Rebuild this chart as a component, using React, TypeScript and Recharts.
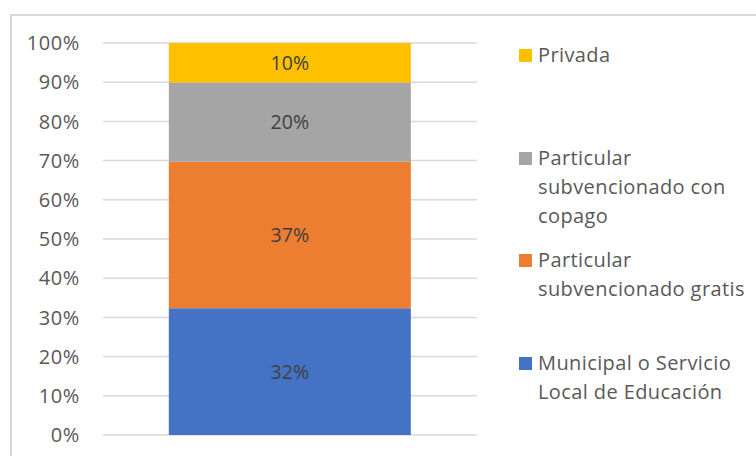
import React from 'react';
import { BarChart, Bar, XAxis, YAxis, CartesianGrid, Legend, LabelList } from 'recharts';

const categories = ['Total'];
const seriesNames = [
  'Municipal o Servicio Local de Educación',
  'Particular subvencionado gratis',
  'Particular subvencionado con copago',
  'Privada',
];
const seriesKeys = ['municipal', 'gratis', 'copago', 'privada'];
const seriesValues = [32, 37, 20, 10];
const seriesColors = ['#4472C4', '#ED7D31', '#A5A5A5', '#FFC000'];
const legendLines = [
  ['Municipal o Servicio', 'Local de Educación'],
  ['Particular', 'subvencionado gratis'],
  ['Particular', 'subvencionado con', 'copago'],
  ['Privada'],
];
const yTicks = [0, 0.1, 0.2, 0.3, 0.4, 0.5, 0.6, 0.7, 0.8, 0.9, 1];

const data = categories.map((c) => {
  const row: Record<string, any> = { name: c };
  seriesKeys.forEach((k, i) => {
    row[k] = seriesValues[i];
  });
  return row;
});

const FONT = '"Open Sans", sans-serif';

const LegendContent = () => {
  const order = [3, 2, 1, 0];
  return (
    <div style={{ fontFamily: FONT, fontSize: 20, letterSpacing: 0.4, color: '#595959' }}>
      {order.map((i) => (
        <div key={seriesKeys[i]} style={{ height: 102.7, display: 'flex', alignItems: 'flex-start' }}>
          <div
            style={{
              width: 13,
              height: 13,
              background: seriesColors[i],
              marginTop: 10,
              marginRight: 6,
              flex: '0 0 auto',
            }}
          />
          <div style={{ lineHeight: '29px', marginTop: 1 }}>
            {legendLines[i].map((l, j) => (
              <div key={j} style={{ whiteSpace: 'nowrap' }}>{l}</div>
            ))}
          </div>
        </div>
      ))}
    </div>
  );
};

export default function App() {
  return (
    <div style={{ position: 'absolute', left: 0, top: 0, width: 756, height: 456, background: '#fff', overflow: 'hidden' }}>
      <div
        style={{
          position: 'absolute',
          left: 10,
          top: 14,
          width: 760,
          height: 460,
          borderLeft: '2px solid #d9d9d9',
          borderTop: '2px solid #d9d9d9',
          boxSizing: 'border-box',
        }}
      />
      <div style={{ position: 'absolute', left: 0, top: 0 }}>
        <BarChart
          width={756}
          height={456}
          data={data}
          stackOffset="expand"
          barCategoryGap="17.6%"
          margin={{ top: 43, right: 39, bottom: 21, left: 0 }}
        >
          <CartesianGrid horizontal vertical={false} stroke="#d9d9d9" strokeWidth={1.5} />
          <XAxis dataKey="name" hide />
          <YAxis
            width={103}
            domain={[0, 1]}
            ticks={yTicks}
            interval={0}
            tickFormatter={(v: number) => `${Math.round(v * 100)}%`}
            axisLine={false}
            tickLine={false}
            tickSize={0}
            tickMargin={23}
            tick={{ fill: '#595959', fontSize: 20, fontFamily: FONT, letterSpacing: 0.6 }}
          />
          <Legend
            layout="vertical"
            align="right"
            verticalAlign="top"
            content={<LegendContent />}
            wrapperStyle={{ left: 519, top: 39, right: 'auto', width: 240 }}
          />
          {seriesKeys.map((k, i) => (
            <Bar
              key={k}
              dataKey={k}
              name={seriesNames[i]}
              stackId="a"
              fill={seriesColors[i]}
              isAnimationActive={false}
            >
              <LabelList
                dataKey={k}
                position="center"
                formatter={(v: any) => `${v}%`}
                style={{ fill: '#404040', fontSize: 19.5, fontFamily: FONT }}
              />
            </Bar>
          ))}
        </BarChart>
      </div>
    </div>
  );
}
